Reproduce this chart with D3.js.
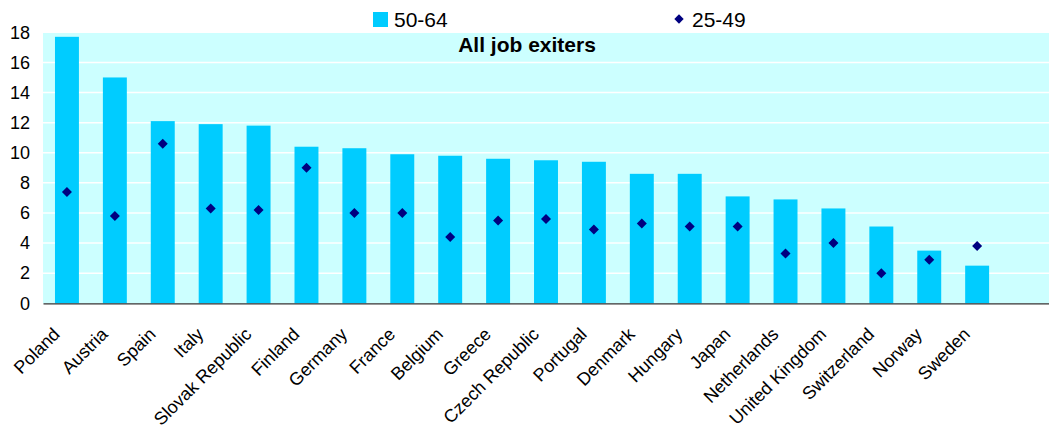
<!DOCTYPE html>
<html><head><meta charset="utf-8">
<script src="https://cdn.jsdelivr.net/npm/d3@7"></script>
<style>body{margin:0;background:#fff;}svg{display:block;font-family:Arial,"Liberation Sans",sans-serif;}</style>
</head><body><svg id="c" width="1049" height="430"></svg>
<script>
const categories = ["Poland","Austria","Spain","Italy","Slovak Republic","Finland","Germany","France","Belgium","Greece","Czech Republic","Portugal","Denmark","Hungary","Japan","Netherlands","United Kingdom","Switzerland","Norway","Sweden",""];
const age5064 = [17.7,15.0,12.1,11.9,11.8,10.4,10.3,9.9,9.8,9.6,9.5,9.4,8.6,8.6,7.1,6.9,6.3,5.1,3.5,2.5,null];
const age2549 = [7.4,5.8,10.6,6.3,6.2,9.0,6.0,6.0,4.4,5.5,5.6,4.9,5.3,5.1,5.1,3.3,4.0,2.0,2.9,3.8,null];
const yTicks = [0,2,4,6,8,10,12,14,16,18];
const seriesNames = ["50-64","25-49"];
const title = "All job exiters";

const svg = d3.select("#c");
const m = {l:43, r:1049, t:32.3, b:303.3};
const x = d3.scaleBand().domain(categories.map((d,i)=>i)).range([m.l,m.r]).paddingInner(0.5).paddingOuter(0.25);
const y = d3.scaleLinear().domain([0,18]).range([m.b,m.t]);

svg.append("rect").attr("x",m.l).attr("y",m.t).attr("width",m.r-m.l).attr("height",m.b-m.t).attr("fill","#CCFFFF");
svg.append("g").selectAll("line").data(yTicks.filter(d=>d>0)).join("line")
  .attr("x1",m.l).attr("x2",m.r).attr("y1",d=>y(d)).attr("y2",d=>y(d))
  .attr("stroke","#fff").attr("stroke-width",1.5);

// y axis labels
const ya = svg.append("g").attr("transform",`translate(${m.l},0)`).call(d3.axisLeft(y).tickValues(yTicks).tickSize(0).tickPadding(13));
ya.select(".domain").remove();
ya.selectAll("text").attr("font-size",18).attr("fill","#000").attr("font-family","Arial, 'Liberation Sans', sans-serif");

// bars
svg.append("g").selectAll("rect").data(age5064.map((v,i)=>({v,i})).filter(d=>d.v!=null)).join("rect")
  .attr("x",d=>x(d.i)).attr("width",x.bandwidth())
  .attr("y",d=>y(d.v)).attr("height",d=>y(0)-y(d.v)).attr("fill","#00CCFF");

// x axis
const xa = svg.append("g").attr("transform",`translate(0,${m.b})`).call(d3.axisBottom(x).tickSize(0).tickFormat(i=>categories[i]));
xa.select(".domain").attr("stroke","#333").attr("stroke-width",1.2);
xa.selectAll("text").attr("font-size",18).attr("fill","#000").attr("font-family","Arial, 'Liberation Sans', sans-serif")
  .attr("text-anchor","end").attr("dy",0)
  .attr("transform","translate(-6,32) rotate(-45)").attr("y",0).attr("x",0);

// diamonds
svg.append("g").selectAll("path").data(age2549.map((v,i)=>({v,i})).filter(d=>d.v!=null)).join("path")
  .attr("d",d3.symbol().type(d3.symbolSquare).size(50))
  .attr("transform",d=>`translate(${x(d.i)+x.bandwidth()/2},${y(d.v)}) rotate(45)`)
  .attr("fill","#000080");

// title
svg.append("text").attr("x",527).attr("y",52).attr("text-anchor","middle")
  .attr("font-size",21).attr("font-weight","bold").text(title);

// legend
svg.append("rect").attr("x",373).attr("y",12).attr("width",15).attr("height",15).attr("fill","#00CCFF");
svg.append("text").attr("x",394).attr("y",27).attr("font-size",21).text(seriesNames[0]);
svg.append("path").attr("d",d3.symbol().type(d3.symbolSquare).size(44)).attr("transform","translate(679,19) rotate(45)").attr("fill","#000080");
svg.append("text").attr("x",692).attr("y",27).attr("font-size",21).text(seriesNames[1]);
</script></body></html>
